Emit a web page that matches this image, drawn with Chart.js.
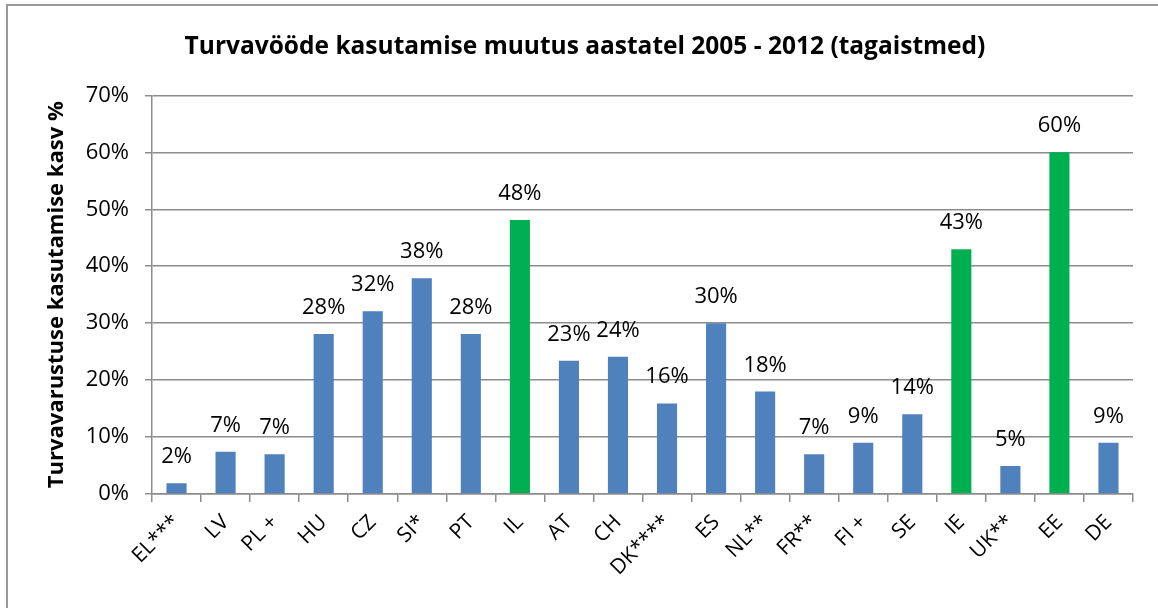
<!DOCTYPE html>
<html>
<head>
<meta charset="utf-8">
<title>Turvavööde kasutamise muutus</title>
<script src="https://cdn.jsdelivr.net/npm/chart.js@4.4.2/dist/chart.umd.min.js"></script>
<style>
html, body {
    margin: 0;
    padding: 0;
    background: #fff;
}
#wrap {
    width: 1158px;
    height: 608px;
}
</style>
</head>
<body>
<div id="wrap">
    <canvas id="chart" width="1158" height="608"></canvas>
</div>
<script>
const countries = ["EL***", "LV", "PL +", "HU", "CZ", "SI*", "PT", "IL", "AT", "CH",
    "DK****", "ES", "NL**", "FR**", "FI +", "SE", "IE", "UK**", "EE", "DE"];
const increase = [1.9, 7.4, 7.0, 28.1, 32.1, 37.9, 28.1, 48.1, 23.4, 24.1,
    15.9, 30.0, 18.0, 7.0, 9.0, 14.0, 43.0, 4.9, 60.0, 9.0];
// highlighted countries drawn in green
const highlighted = ["IL", "IE", "EE"];
const yTicks = [0, 10, 20, 30, 40, 50, 60, 70];

const blue = "#4f81bd";
const green = "#00b050";
const gridColor = "#8c8c8c";
const fontFamily = "'Open Sans', 'Noto Sans', sans-serif";

// white background plus the left/top frame line
const framePlugin = {
    id: "frame",
    beforeDraw: (chart) => {
        const ctx = chart.ctx;
        ctx.save();
        ctx.fillStyle = "#fff";
        ctx.fillRect(0, 0, chart.width, chart.height);
        ctx.strokeStyle = "#999";
        ctx.lineWidth = 2;
        ctx.beginPath();
        ctx.moveTo(7, chart.height);
        ctx.lineTo(7, 5);
        ctx.lineTo(chart.width, 5);
        ctx.stroke();
        ctx.restore();
    }
};

// value labels above bars
const labelPlugin = {
    id: "barLabels",
    afterDatasetsDraw: (chart) => {
        const ctx = chart.ctx;
        const meta = chart.getDatasetMeta(0);
        ctx.save();
        ctx.font = "22px " + fontFamily;
        ctx.fillStyle = "#000";
        ctx.textAlign = "center";
        ctx.textBaseline = "alphabetic";
        meta.data.forEach((bar, i) => {
            ctx.fillText(Math.round(increase[i]) + "%", bar.x, bar.y - 20);
        });
        ctx.restore();
    }
};

const ctx = document.getElementById("chart").getContext("2d");
const chart = new Chart(ctx, {
    type: "bar",
    data: {
        labels: countries,
        datasets: [{
            data: increase,
            backgroundColor: countries.map(c => highlighted.includes(c) ? green : blue),
            barPercentage: 0.41,
            categoryPercentage: 1.0
        }]
    },
    options: {
        responsive: false,
        animation: false,
        layout: {
            padding: { left: 37, right: 25, top: 0, bottom: 0 }
        },
        plugins: {
            legend: { display: false },
            tooltip: { enabled: false },
            title: {
                display: true,
                text: "Turvavööde kasutamise muutus aastatel 2005 - 2012 (tagaistmed)",
                color: "#000",
                font: { family: fontFamily, size: 24.5, weight: "bold" },
                padding: { top: 32, bottom: 34 }
            }
        },
        scales: {
            x: {
                grid: {
                    drawOnChartArea: false,
                    drawTicks: true,
                    tickLength: 8,
                    color: gridColor,
                    lineWidth: 1.5,
                    offset: true
                },
                border: { color: gridColor, width: 1.5 },
                ticks: {
                    color: "#000",
                    font: { family: fontFamily, size: 21 },
                    maxRotation: 45,
                    minRotation: 45,
                    padding: 8,
                    autoSkip: false
                },
                afterFit: (scale) => { scale.height = 114; }
            },
            y: {
                min: 0,
                max: 70,
                afterBuildTicks: (scale) => {
                    scale.ticks = yTicks.map(v => ({ value: v }));
                },
                grid: {
                    color: gridColor,
                    lineWidth: 1.5,
                    tickLength: 7
                },
                border: { color: gridColor, width: 1.5 },
                ticks: {
                    color: "#000",
                    font: { family: fontFamily, size: 22 },
                    padding: 16,
                    callback: (v) => v + "%"
                },
                title: {
                    display: true,
                    text: "Turvavarustuse kasutamise kasv %",
                    color: "#000",
                    font: { family: fontFamily, size: 22, weight: "bold" },
                    padding: { top: 7, bottom: 8 }
                },
                afterFit: (scale) => { scale.width = 115; }
            }
        }
    },
    plugins: [framePlugin, labelPlugin]
});
</script>
</body>
</html>
